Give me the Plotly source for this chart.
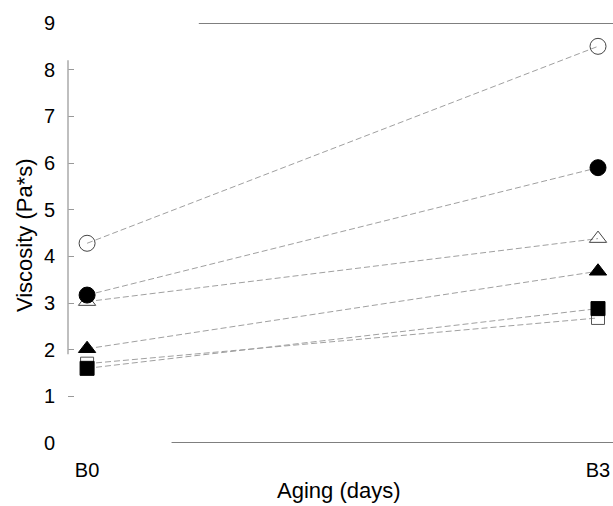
import plotly.graph_objects as go

categories = ["B0", "B3"]
x_pos = [0, 3]
open_circle = [4.28, 8.5]
filled_circle = [3.17, 5.9]
open_triangle = [3.03, 4.38]
filled_triangle = [2.02, 3.68]
filled_square = [1.6, 2.88]
open_square = [1.7, 2.68]
y_ticks = list(range(0, 10))

series = [
    (open_square, "square-open", 13, "#555555"),
    (filled_square, "square", 14, "black"),
    (filled_triangle, "triangle-up", 15, "black"),
    (open_triangle, "triangle-up-open", 15, "#444444"),
    (filled_circle, "circle", 16, "black"),
    (open_circle, "circle-open", 16, "#444444"),
]

fig = go.Figure()
for vals, sym, size, col in series:
    fig.add_trace(go.Scatter(
        x=x_pos, y=vals, mode="lines+markers",
        line=dict(color="#a0a0a0", width=1, dash="6px,3px"),
        marker=dict(symbol=sym, size=size, color=col, line=dict(color=col, width=1)),
        showlegend=False,
    ))

# frame segments (top and bottom) and partial y axis line
fig.add_shape(type="line", xref="paper", yref="y", x0=0.24, x1=1, y0=9, y1=9,
              line=dict(color="#555555", width=1.5))
fig.add_shape(type="line", xref="paper", yref="y", x0=0.19, x1=1, y0=0, y1=0,
              line=dict(color="#555555", width=1.5))
fig.add_shape(type="line", xref="paper", yref="y", x0=0, x1=0, y0=1.9, y1=8.2,
              line=dict(color="#aaaaaa", width=1.5))

fig.add_annotation(text="Viscosity (Pa*s)", xref="paper", yref="paper",
                   x=-0.0807, y=0.495, xanchor="center", yanchor="middle",
                   textangle=-90, showarrow=False, font=dict(size=22))
fig.add_annotation(text="Aging (days)", xref="paper", yref="paper",
                   x=0.497, y=-0.112, xanchor="center", yanchor="middle",
                   showarrow=False, font=dict(size=22))

fig.update_layout(
    width=613, height=506,
    margin=dict(l=68, r=0, t=23, b=63),
    plot_bgcolor="white", paper_bgcolor="white",
    font=dict(family="Liberation Sans, Arial, sans-serif", color="black", size=20),
    xaxis=dict(range=[-0.112, 3.088], tickvals=x_pos, ticktext=categories,
               showgrid=False, zeroline=False, showline=False, ticks="",
               ticklabelstandoff=13, tickfont=dict(size=20)),
    yaxis=dict(range=[0, 9], tickvals=y_ticks, showgrid=False, zeroline=False,
               showline=False, ticks="inside", ticklen=6, tickcolor="#999999",
               ticklabelstandoff=12, tickfont=dict(size=20)),
)

fig.write_html("out.html")
